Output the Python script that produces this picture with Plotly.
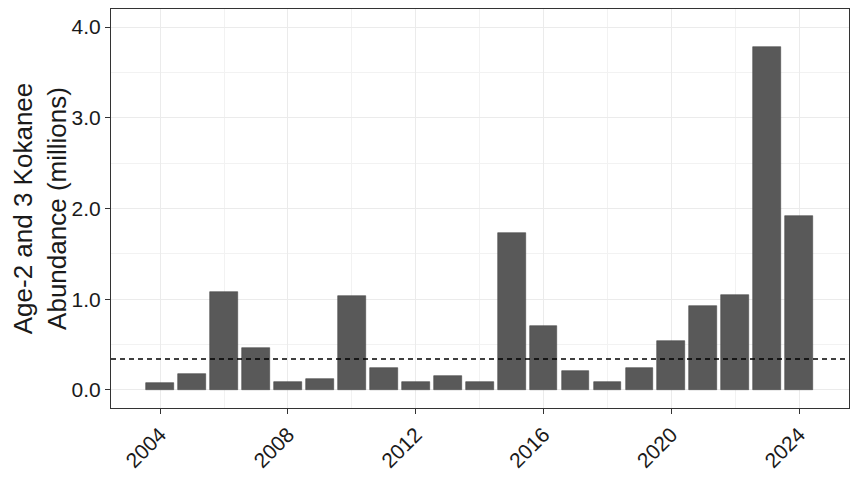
import plotly.graph_objects as go

years = list(range(2004, 2025))
abundance = [0.08, 0.18, 1.08, 0.46, 0.09, 0.12, 1.03, 0.24, 0.09, 0.15, 0.09,
             1.73, 0.70, 0.21, 0.09, 0.24, 0.54, 0.93, 1.05, 3.78, 1.92]
reference_level = 0.34
y_tick_vals = [0.0, 1.0, 2.0, 3.0, 4.0]
x_tick_vals = [2004, 2008, 2012, 2016, 2020, 2024]

FONT = "Liberation Sans, Arial, sans-serif"

fig = go.Figure()
fig.add_trace(go.Bar(
    x=years, y=abundance, width=0.87,
    marker=dict(color="#595959", line=dict(color="#4a4a4a", width=0.6)),
    showlegend=False,
))
fig.add_shape(type="line", xref="paper", x0=0, x1=1, yref="y",
              y0=reference_level, y1=reference_level,
              line=dict(color="black", width=1.5, dash="5px,4px"))

fig.update_layout(
    width=850, height=492,
    margin=dict(l=103, r=9, t=1, b=92, autoexpand=False),
    paper_bgcolor="white", plot_bgcolor="white",
    font=dict(family=FONT, color="#1a1a1a"),
    bargap=0,
)
fig.update_xaxes(
    range=[2002.46, 2025.56],
    tickmode="array", tickvals=x_tick_vals, ticktext=[str(v) for v in x_tick_vals],
    tickangle=-45, tickfont=dict(size=21, color="#1a1a1a", family=FONT),
    ticks="outside", ticklen=5, tickcolor="#333333", tickwidth=1,
    showgrid=True, gridcolor="#ebebeb", gridwidth=1,
    minor=dict(tickmode="array", tickvals=[2002, 2006, 2010, 2014, 2018, 2022],
               showgrid=True, gridcolor="#f2f2f2", gridwidth=0.6, ticks=""),
    showline=True, linecolor="#333333", linewidth=1.2, mirror=True,
    zeroline=False,
)
fig.update_yaxes(
    range=[-0.2, 4.2],
    tickmode="array", tickvals=y_tick_vals, ticktext=[f"{v:.1f}" for v in y_tick_vals],
    tickfont=dict(size=21, color="#1a1a1a", family=FONT),
    ticks="outside", ticklen=5, tickcolor="#333333", tickwidth=1,
    showgrid=True, gridcolor="#ebebeb", gridwidth=1,
    minor=dict(tickmode="array", tickvals=[0.5, 1.5, 2.5, 3.5],
               showgrid=True, gridcolor="#f2f2f2", gridwidth=0.6, ticks=""),
    showline=True, linecolor="#333333", linewidth=1.2, mirror=True,
    zeroline=False,
    title=dict(text="Age-2 and 3 Kokanee<br>Abundance (millions)",
               font=dict(size=26, color="#1a1a1a", family=FONT), standoff=8),
)

fig.write_html("out.html")
